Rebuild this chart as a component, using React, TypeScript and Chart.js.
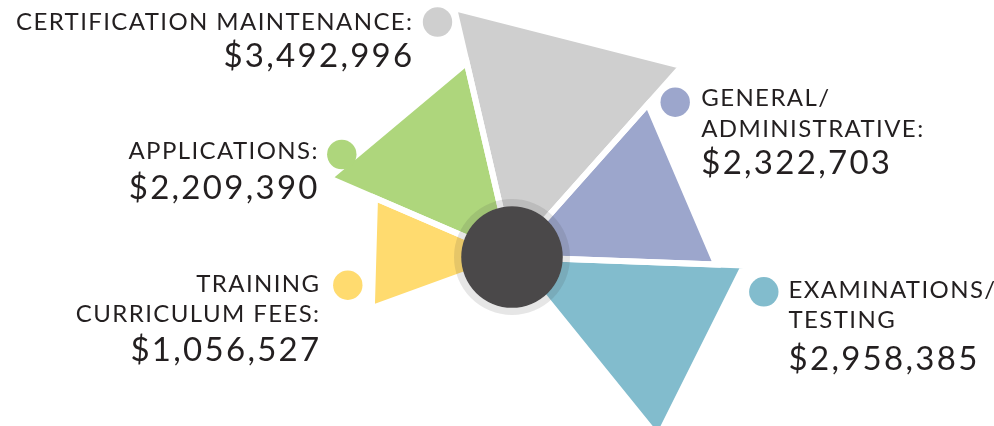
import React, { useEffect, useRef } from 'react';
import { Chart, registerables } from 'chart.js';

Chart.register(...registerables);

// ---- data ----
const categories: string[][] = [
  ['TRAINING', 'CURRICULUM FEES:'],
  ['APPLICATIONS:'],
  ['CERTIFICATION MAINTENANCE:'],
  ['GENERAL/', 'ADMINISTRATIVE:'],
  ['EXAMINATIONS/', 'TESTING'],
];
const amounts: number[] = [1056527, 2209390, 3492996, 2322703, 2958385];
const sliceAngles: number[] = [43.3, 53.6, 54.75, 50.45, 48.9];
const colors: string[] = ['#ffdb6f', '#aed67c', '#cfcfcf', '#9ca6cc', '#82bccd'];

// ---- layout (offsets from the chart centre) ----
type LabelLayout = { dx: number; dy: number; align: 'left' | 'right'; tx: number; ty: number; valueGap: number };
const labelLayout: LabelLayout[] = [
  { dx: -164.2, dy: 28.2, align: 'right', tx: -191.5, ty: 34.8, valueGap: 38.4 },
  { dx: -170.2, dy: -102.5, align: 'right', tx: -193.2, ty: -98.5, valueGap: 40 },
  { dx: -74.5, dy: -235, align: 'right', tx: -98.5, ty: -227.5, valueGap: 37.5 },
  { dx: 163.2, dy: -154.8, align: 'left', tx: 189.2, ty: -150.8, valueGap: 37.6 },
  { dx: 251.8, dy: 34.8, align: 'left', tx: 276.5, ty: 40.8, valueGap: 41.7 },
];
const LINE_HEIGHT = 30.5;
const DOT_R = 14.7;
const CORE_R = 50.8;
const RING_R = 58;
const TEXT_COLOR = '#231f20';

const fmt = (v: number) => '$' + v.toLocaleString('en-US');

const trianglePlugin = {
  id: 'triangles',
  afterDatasetsDraw(chart: any) {
    const ctx: CanvasRenderingContext2D = chart.ctx;
    const meta = chart.getDatasetMeta(0);
    const scale = chart.scales.r;
    const cx = scale.xCenter;
    const cy = scale.yCenter;
    const tris = meta.data.map((el: any) => {
      const { x, y, startAngle, endAngle, outerRadius } = el;
      return {
        x,
        y,
        ax: x + outerRadius * Math.cos(startAngle),
        ay: y + outerRadius * Math.sin(startAngle),
        bx: x + outerRadius * Math.cos(endAngle),
        by: y + outerRadius * Math.sin(endAngle),
      };
    });
    ctx.save();
    const path = (t: any) => {
      ctx.beginPath();
      ctx.moveTo(t.x, t.y);
      ctx.lineTo(t.ax, t.ay);
      ctx.lineTo(t.bx, t.by);
      ctx.closePath();
    };
    tris.forEach((t: any, i: number) => {
      path(t);
      ctx.fillStyle = colors[i];
      ctx.fill();
    });
    ctx.strokeStyle = '#ffffff';
    ctx.lineWidth = 6;
    ctx.lineJoin = 'miter';
    ctx.miterLimit = 30;
    tris.forEach((t: any) => {
      path(t);
      ctx.stroke();
    });
    // translucent ring
    ctx.beginPath();
    ctx.arc(cx, cy, RING_R, 0, Math.PI * 2);
    ctx.arc(cx, cy, CORE_R, 0, Math.PI * 2, true);
    ctx.fillStyle = 'rgba(60,60,60,0.13)';
    ctx.fill();
    // dark core
    ctx.beginPath();
    ctx.arc(cx, cy, CORE_R, 0, Math.PI * 2);
    ctx.fillStyle = '#4a4849';
    ctx.fill();

    // labels
    labelLayout.forEach((L, i) => {
      ctx.beginPath();
      ctx.arc(cx + L.dx, cy + L.dy, DOT_R, 0, Math.PI * 2);
      ctx.fillStyle = colors[i];
      ctx.fill();
      ctx.fillStyle = TEXT_COLOR;
      ctx.textAlign = L.align;
      ctx.textBaseline = 'alphabetic';
      (ctx as any).letterSpacing = '1.4px';
      ctx.font = '24px Lato';
      const lines = categories[i];
      lines.forEach((line, k) => {
        ctx.fillText(line, cx + L.tx, cy + L.ty + k * LINE_HEIGHT);
      });
      const lastY = cy + L.ty + (lines.length - 1) * LINE_HEIGHT;
      (ctx as any).letterSpacing = '2.3px';
      ctx.font = '33px Lato';
      ctx.fillText(fmt(amounts[i]), cx + L.tx + (L.align === 'right' ? 1 : 0), lastY + L.valueGap);
    });
    ctx.restore();
  },
};

export default function App() {
  const ref = useRef<HTMLCanvasElement | null>(null);
  useEffect(() => {
    if (!ref.current) return;
    const chart = new Chart(ref.current, {
      type: 'polarArea',
      data: {
        labels: categories.map((c) => c.join(' ')),
        datasets: [
          {
            data: amounts,
            backgroundColor: 'rgba(0,0,0,0)',
            borderWidth: 0,
            angle: (c: any) => sliceAngles[c.dataIndex],
          } as any,
        ],
      },
      options: {
        responsive: false,
        animation: false,
        devicePixelRatio: 1,
        layout: { padding: { left: 31, right: 0, top: 89, bottom: 0 } },
        plugins: { legend: { display: false }, tooltip: { enabled: false } },
        scales: {
          r: {
            display: false,
            min: -2358000,
            max: 1488000,
            startAngle: 250,
          },
        },
      } as any,
      plugins: [trianglePlugin],
    });
    return () => chart.destroy();
  }, []);
  return (
    <div style={{ position: 'absolute', left: 0, top: 0, width: 994, height: 426, background: '#fff' }}>
      <canvas ref={ref} width={994} height={426} style={{ display: 'block' }} />
    </div>
  );
}
